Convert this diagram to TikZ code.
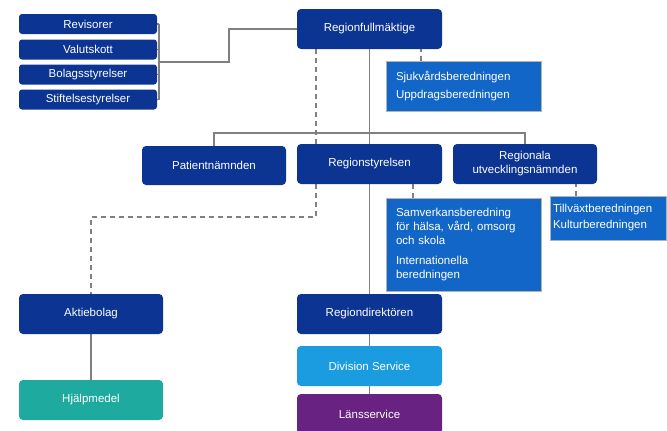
\documentclass[tikz,border=0pt]{standalone}
\usepackage{fontspec}
\setmainfont{Liberation Sans}
\usetikzlibrary{calc,backgrounds}
\definecolor{nc}{RGB}{12,52,146}
\definecolor{bc}{RGB}{18,102,200}
\definecolor{dc}{RGB}{28,156,224}
\definecolor{tc}{RGB}{30,170,158}
\definecolor{pc}{RGB}{104,34,130}
\definecolor{gc}{RGB}{128,128,128}
\tikzset{n/.style={fill=nc,rounded corners=4pt,text=white,minimum width=144pt,minimum height=40pt,align=center,inner sep=2pt},
 sm/.style={n,minimum width=138pt,minimum height=20pt,rounded corners=3pt},
 b/.style={fill=bc,draw=gray!60,line width=.4pt,text=white,align=left,inner sep=10pt,text width=135pt},
 ln/.style={draw=gc,line width=1.8pt},dsh/.style={ln,dash pattern=on 5pt off 4pt},
 every node/.style={font=\fontsize{11.5}{14}\selectfont}}
\begin{document}
\begin{tikzpicture}[x=1pt,y=-1pt]
\useasboundingbox (0,0) rectangle (667,431);
\clip (0,0) rectangle (667,431);
\node[sm] (rev) at (88,24) {Revisorer};\node[sm] (val) at (88,49.5) {Valutskott};
\node[sm] (bol) at (88,74.5) {Bolagsstyrelser};\node[sm] (sti) at (88,99.5) {Stiftelsestyrelser};
\node[n,minimum width=145pt] (rf) at (369.5,29) {Regionfullmäktige};
\node[b,minimum height=43pt] (sjuk) at (463.5,86.5) {Sjukvårdsberedningen\\[4pt]Uppdragsberedningen};
\node[n,minimum height=39pt] (pat) at (214,165.5) {Patientnämnden};
\node[n,minimum width=145pt] (rs) at (369.5,164) {Regionstyrelsen};
\node[n] (reg) at (525,164) {Regionala\\utvecklingsnämnden};
\node[b,minimum height=87pt] (sam) at (463.5,244.5) {Samverkansberedning\\för hälsa, vård, omsorg\\och skola\\[6pt]Internationella\\beredningen};
\node[b,text width=110pt,inner sep=3pt,minimum height=44pt] (till) at (608,218) {Tillväxtberedningen\\[2pt]Kulturberedningen};
\node[n] (akt) at (91,314) {Aktiebolag};
\node[n,fill=tc] (hjm) at (91,400) {Hjälpmedel};
\node[n,minimum width=145pt] (rd) at (369.5,314) {Regiondirektören};
\node[n,minimum width=145pt,fill=dc] (div) at (369.5,366) {Division Service};
\node[n,minimum width=145pt,fill=pc] (lans) at (369.5,414) {Länsservice};
\begin{scope}[on background layer]
\foreach \s in {rev,val,bol,sti}{\draw[ln] (\s.east) -- ++(2,0);}
\draw[ln] ([xshift=2pt]rev.east) -- ([xshift=2pt]sti.east);
\coordinate (br) at ($(val.east)!.5!(bol.east)+(2,0)$);
\draw[ln] (br) -- ++(70,0) |- (rf.west);
\draw[ln] (rf) -- (rd);
\draw[ln] (pat.north) -- ++(0,-12.5) -| (reg.north);
\draw[dsh] ([xshift=19pt]rf.south west) -- ++(0,168) -| (akt.north);
\draw[dsh] ([xshift=35pt]sjuk.north west) -- ([xshift=35pt]sjuk.north west |- rf.south);
\draw[dsh] ([xshift=27pt]sam.north west) -- ([xshift=27pt]sam.north west |- rs.south);
\draw[dsh] ([xshift=26pt]till.north west) -- ([xshift=26pt]till.north west |- reg.south);
\draw[ln] (akt) -- (hjm);
\draw[ln] (rd) -- (div) -- (lans);
\end{scope}
\end{tikzpicture}
\end{document}
